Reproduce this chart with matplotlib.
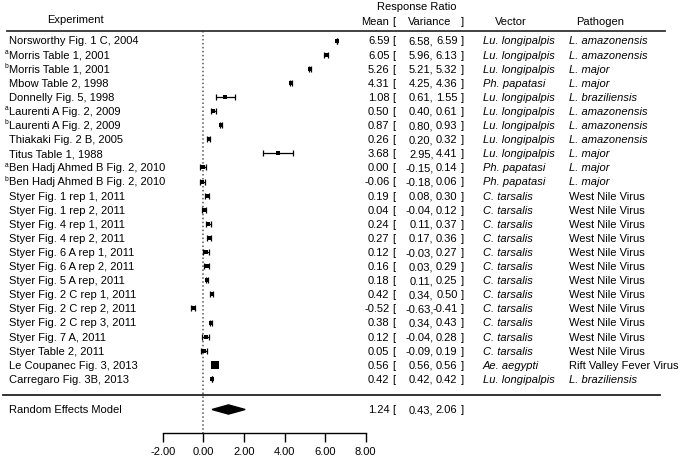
import matplotlib
matplotlib.use("Agg")
import matplotlib.pyplot as plt
from matplotlib.patches import Polygon
from matplotlib.transforms import blended_transform_factory

plt.rcParams['font.family'] = ['Liberation Sans', 'DejaVu Sans']

experiments = [
    "Norsworthy Fig. 1 C, 2004", "Morris Table 1, 2001", "Morris Table 1, 2001",
    "Mbow Table 2, 1998", "Donnelly Fig. 5, 1998", "Laurenti A Fig. 2, 2009",
    "Laurenti A Fig. 2, 2009", "Thiakaki Fig. 2 B, 2005", "Titus Table 1, 1988",
    "Ben Hadj Ahmed B Fig. 2, 2010", "Ben Hadj Ahmed B Fig. 2, 2010",
    "Styer Fig. 1 rep 1, 2011", "Styer Fig. 1 rep 2, 2011", "Styer Fig. 4 rep 1, 2011",
    "Styer Fig. 4 rep 2, 2011", "Styer Fig. 6 A rep 1, 2011", "Styer Fig. 6 A rep 2, 2011",
    "Styer Fig. 5 A rep, 2011", "Styer Fig. 2 C rep 1, 2011", "Styer Fig. 2 C rep 2, 2011",
    "Styer Fig. 2 C rep 3, 2011", "Styer Fig. 7 A, 2011", "Styer Table 2, 2011",
    "Le Coupanec Fig. 3, 2013", "Carregaro Fig. 3B, 2013",
]
superscripts = ["", "a", "b", "", "", "a", "b", "", "", "a", "b",
                "", "", "", "", "", "", "", "", "", "", "", "", "", ""]
means = [6.59, 6.05, 5.26, 4.31, 1.08, 0.50, 0.87, 0.26, 3.68, 0.00, -0.06,
         0.19, 0.04, 0.24, 0.27, 0.12, 0.16, 0.18, 0.42, -0.52, 0.38, 0.12, 0.05,
         0.56, 0.42]
lows = [6.58, 5.96, 5.21, 4.25, 0.61, 0.40, 0.80, 0.20, 2.95, -0.15, -0.18,
        0.08, -0.04, 0.11, 0.17, -0.03, 0.03, 0.11, 0.34, -0.63, 0.34, -0.04, -0.09,
        0.56, 0.42]
highs = [6.59, 6.13, 5.32, 4.36, 1.55, 0.61, 0.93, 0.32, 4.41, 0.14, 0.06,
         0.30, 0.12, 0.37, 0.36, 0.27, 0.29, 0.25, 0.50, -0.41, 0.43, 0.28, 0.19,
         0.56, 0.42]
weights = [1, 1, 1, 1, 1, 1, 1, 1, 1, 1, 1, 1, 1, 1, 1, 1, 1, 1, 1, 1, 1, 1, 1,
           2.8, 1]
vectors = ["Lu. longipalpis", "Lu. longipalpis", "Lu. longipalpis", "Ph. papatasi",
           "Lu. longipalpis", "Lu. longipalpis", "Lu. longipalpis", "Lu. longipalpis",
           "Lu. longipalpis", "Ph. papatasi", "Ph. papatasi"] + ["C. tarsalis"] * 12 + \
          ["Ae. aegypti", "Lu. longipalpis"]
pathogens = ["L. amazonensis", "L. amazonensis", "L. major", "L. major",
             "L. braziliensis", "L. amazonensis", "L. amazonensis", "L. amazonensis",
             "L. major", "L. major", "L. major"] + ["West Nile Virus"] * 12 + \
            ["Rift Valley Fever Virus", "L. braziliensis"]
pathogen_italic = [True] * 11 + [False] * 13 + [True]

re_label = "Random Effects Model"
re_mean, re_low, re_high = 1.24, 0.43, 2.06
xticks = [-2, 0, 2, 4, 6, 8]

# ---- layout ----
W, H = 680, 464
FS = 8.0
x0_px, ppu = 203.3, 20.3          # pixel of value 0, pixels per unit
row0_px, row_px = 41.5, 14.1      # pixel of first row, pixels per row

fig = plt.figure(figsize=(W / 100, H / 100), dpi=100)
ax = fig.add_axes([0, 0, 1, 1])
ax.set_xlim(-x0_px / ppu, (W - x0_px) / ppu)
ax.set_ylim((H - row0_px) / row_px, -row0_px / row_px)
for s in ['top', 'left', 'right']:
    ax.spines[s].set_visible(False)
ax.set_yticks([])

def py(p):  # pixel y -> data y
    return (p - row0_px) / row_px

tx = blended_transform_factory(fig.transFigure, ax.transData)

def xf(p):
    return p / W

n = len(experiments)
rows = list(range(n))

# reference line at zero
ax.plot([0, 0], [py(32), py(434)], color='#555555', lw=1.1,
        linestyle=(0, (1, 1.6)), zorder=1)

# study estimates
for i in rows:
    ax.errorbar(means[i], i, xerr=[[means[i] - lows[i]], [highs[i] - means[i]]],
                fmt='none', ecolor='black', elinewidth=0.9, capsize=2.2,
                capthick=0.9, zorder=3)
    ax.plot(means[i], i, marker='s', color='black', ms=2.2 * weights[i],
            mew=0, zorder=4)

# random effects diamond
re_y = py(410.5)
h = 4.6 / row_px
ax.add_patch(Polygon([(re_low, re_y), (re_mean, re_y - h), (re_high, re_y),
                      (re_mean, re_y + h)], closed=True, color='black', zorder=4))

# x axis
ax.spines['bottom'].set_position(('data', py(434)))
ax.spines['bottom'].set_bounds(xticks[0], xticks[-1])
ax.spines['bottom'].set_linewidth(1.0)
ax.set_xticks(xticks)
ax.set_xticklabels([f"{v:.2f}" for v in xticks])
ax.tick_params(axis='x', direction='out', length=6.5, width=1.0, pad=3.2,
               labelsize=FS)

# header
ax.text(xf(47), py(20), "Experiment", transform=tx, fontsize=FS, va='center')
ax.text(xf(417), py(7), "Response Ratio", transform=tx, fontsize=FS,
        va='center', ha='center')
ax.text(xf(389), py(22), "Mean", transform=tx, fontsize=FS, va='center', ha='right')
ax.text(xf(392), py(22), "[", transform=tx, fontsize=FS, va='center', ha='left')
ax.text(xf(430), py(22), "Variance", transform=tx, fontsize=FS, va='center', ha='center')
ax.text(xf(461), py(22), "]", transform=tx, fontsize=FS, va='center', ha='left')
ax.text(xf(511), py(22), "Vector", transform=tx, fontsize=FS, va='center', ha='center')
ax.text(xf(600), py(22), "Pathogen", transform=tx, fontsize=FS, va='center', ha='center')

ax.plot([xf(7), xf(665)], [py(31.5), py(31.5)], transform=tx, color='#333333', lw=1.3)
ax.plot([xf(3), xf(660)], [py(396), py(396)], transform=tx, color='#222222', lw=1.3)

def stats_row(y, m, lo, hi):
    ax.text(xf(389.5), y, f"{m:.2f}", transform=tx, fontsize=FS, va='center', ha='right')
    ax.text(xf(392.5), y, "[", transform=tx, fontsize=FS, va='center', ha='left')
    ax.text(xf(433.5), y, f"{lo:.2f},", transform=tx, fontsize=FS, va='center', ha='right')
    ax.text(xf(457.5), y, f"{hi:.2f}", transform=tx, fontsize=FS, va='center', ha='right')
    ax.text(xf(460.5), y, "]", transform=tx, fontsize=FS, va='center', ha='left')

for i in rows:
    ax.text(xf(9), i, experiments[i], transform=tx, fontsize=FS, va='center')
    if superscripts[i]:
        ax.text(xf(4.5), i - 0.22, superscripts[i], transform=tx, fontsize=FS * 0.6,
                va='center')
    stats_row(i, means[i], lows[i], highs[i])
    ax.text(xf(483), i, vectors[i], transform=tx, fontsize=FS, va='center',
            style='italic')
    ax.text(xf(569), i, pathogens[i], transform=tx, fontsize=FS, va='center',
            style='italic' if pathogen_italic[i] else 'normal')

ax.text(xf(9), re_y, re_label, transform=tx, fontsize=FS, va='center')
stats_row(re_y, re_mean, re_low, re_high)

fig.savefig("out.png", dpi=100)
